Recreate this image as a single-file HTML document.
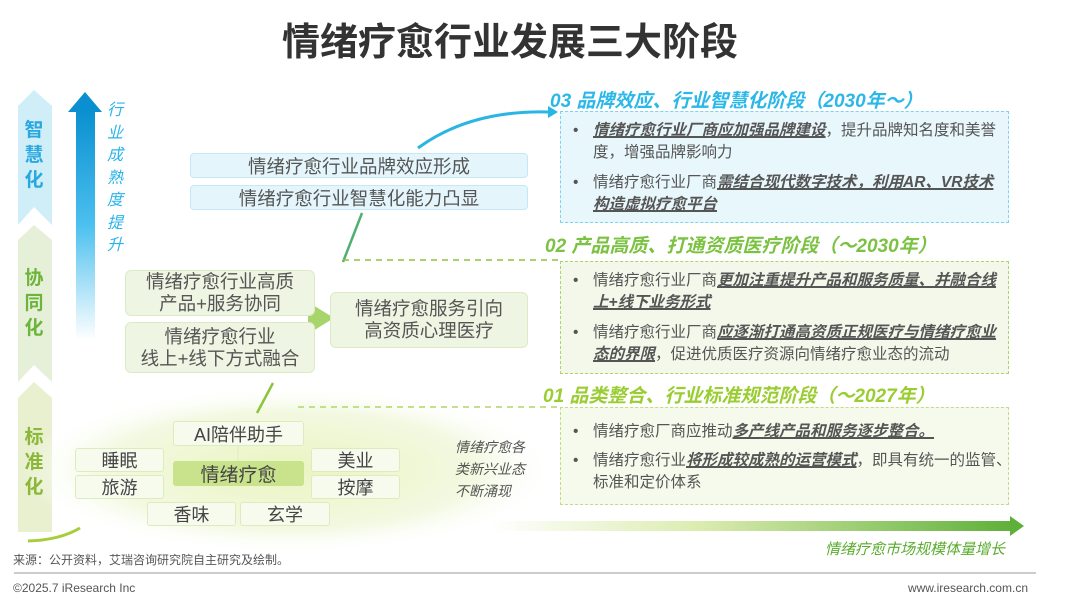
<!DOCTYPE html>
<html><head><meta charset="utf-8">
<style>
*{margin:0;padding:0;box-sizing:border-box}
body{width:1080px;height:605px;background:#fff;position:relative;overflow:hidden;font-family:"Liberation Sans","Noto Sans CJK SC",sans-serif;color:#444}
.a{position:absolute}
.c{display:flex;align-items:center;justify-content:center;text-align:center}
.bb{background:#e4f6fc;border:1.5px solid #c2e9f6;border-radius:4px;font-size:18.5px;color:#555}
.gb{background:#eef5e3;border:1.5px solid #dbebc6;border-radius:6px;font-size:18.5px;color:#555;line-height:22px}
.sb{background:#f7fbee;border:1.5px solid #dcecbf;border-radius:3px;font-size:18px;color:#444}
.h{font-weight:bold;font-style:italic;font-size:19px}
.box{border:1.5px dashed;}
.li{position:absolute;left:32px;right:4px;font-size:15.5px;line-height:22px;color:#555}
.li:before{content:"•";position:absolute;left:-20px;color:#555}
u{font-weight:bold;font-style:italic;color:#555;text-decoration-thickness:1.5px}
.vt{font-size:19px;font-weight:bold;width:34px;line-height:25px}
</style></head><body>
<div class="a" style="left:0;top:11px;width:1020px;text-align:center;font-size:38px;font-weight:bold;color:#333">情绪疗愈行业发展三大阶段</div>

<svg class="a" style="left:0;top:0" width="1080" height="605">
<defs>
<linearGradient id="ba" x1="0" y1="0" x2="0" y2="1"><stop offset="0" stop-color="#0a8fd0"/><stop offset="0.5" stop-color="#4cc0ef"/><stop offset="1" stop-color="#fff"/></linearGradient>
<linearGradient id="ga" x1="0" y1="0" x2="1" y2="0"><stop offset="0" stop-color="#fff"/><stop offset="0.4" stop-color="#dcecb0"/><stop offset="1" stop-color="#5fb03a"/></linearGradient>
<radialGradient id="glow" cx="0.5" cy="0.5" r="0.5"><stop offset="0" stop-color="#eaf4c0"/><stop offset="0.7" stop-color="#f3f9e2"/><stop offset="1" stop-color="#fff" stop-opacity="0"/></radialGradient>
</defs>
<polygon points="18,106 34,90 52,106 52,225 34,207 18,225" fill="#cfeef8"/>
<polygon points="18,240 34,225 52,240 52,382 34,365 18,382" fill="#e6f0d8"/>
<polygon points="18,398 34,382 52,398 52,532 18,532" fill="#e8f0d0"/>
<ellipse cx="290" cy="470" rx="270" ry="85" fill="url(#glow)"/>
<rect x="76" y="110" width="19" height="230" fill="url(#ba)"/>
<polygon points="68,112 85,92 102,112" fill="#0a8fd0"/>
<path d="M418,148 Q470,110 548,112" stroke="#29b6e3" stroke-width="3" fill="none"/>
<polygon points="548,106 558,112 548,118" fill="#29b6e3"/>
<line x1="362" y1="213" x2="343" y2="262" stroke="#4fb070" stroke-width="2.5"/>
<line x1="273" y1="383" x2="257" y2="413" stroke="#8cc43c" stroke-width="2.5"/>
<path d="M28,541 Q60,540 80,528" stroke="#a8cd3c" stroke-width="3" fill="none"/>
<line x1="343" y1="260" x2="560" y2="260" stroke="#8cc43c" stroke-width="1.5" stroke-dasharray="6,5"/>
<line x1="298" y1="407" x2="560" y2="407" stroke="#b0d66a" stroke-width="1.5" stroke-dasharray="6,5"/>
<polygon points="308,302 334,318 308,334" fill="#a8d46c"/>
<rect x="490" y="521" width="522" height="10" fill="url(#ga)"/>
<polygon points="1010,516 1024,526 1010,536" fill="#5fb03a"/>
<line x1="14" y1="573" x2="1036" y2="573" stroke="#999" stroke-width="1"/>
<line x1="238" y1="446" x2="238" y2="462" stroke="#dcecbf"/>
</svg>
<div class="a c vt" style="left:17px;top:118px;color:#29a8e0">智<br>慧<br>化</div>
<div class="a c vt" style="left:17px;top:266px;color:#6cb43c">协<br>同<br>化</div>
<div class="a c vt" style="left:17px;top:425px;color:#8cb83a">标<br>准<br>化</div>
<div class="a" style="left:104px;top:100px;width:22px;font-size:16px;line-height:22.5px;font-style:italic;color:#2ab4ea;text-align:center">行<br>业<br>成<br>熟<br>度<br>提<br>升</div>

<div class="a c bb" style="left:190px;top:153px;width:338px;height:25px">情绪疗愈行业品牌效应形成</div>
<div class="a c bb" style="left:190px;top:185px;width:338px;height:25px">情绪疗愈行业智慧化能力凸显</div>

<div class="a c gb" style="left:125px;top:270px;width:190px;height:46px">情绪疗愈行业高质<br>产品+服务协同</div>
<div class="a c gb" style="left:125px;top:322px;width:190px;height:51px">情绪疗愈行业<br>线上+线下方式融合</div>
<div class="a c gb" style="left:330px;top:292px;width:198px;height:56px">情绪疗愈服务引向<br>高资质心理医疗</div>

<div class="a c sb" style="left:173px;top:421px;width:131px;height:25px">AI陪伴助手</div>
<div class="a c sb" style="left:75px;top:448px;width:89px;height:24px">睡眠</div>
<div class="a c sb" style="left:75px;top:475px;width:89px;height:24px">旅游</div>
<div class="a c" style="left:173px;top:461px;width:131px;height:25px;background:#c9e28c;border-radius:3px;font-size:19px;color:#444">情绪疗愈</div>
<div class="a c sb" style="left:311px;top:448px;width:89px;height:24px">美业</div>
<div class="a c sb" style="left:311px;top:475px;width:89px;height:24px">按摩</div>
<div class="a c sb" style="left:147px;top:502px;width:89px;height:24px">香味</div>
<div class="a c sb" style="left:240px;top:502px;width:90px;height:24px">玄学</div>
<div class="a" style="left:455px;top:436px;font-size:14px;line-height:22px;font-style:italic;color:#555">情绪疗愈各<br>类新兴业态<br>不断涌现</div>

<div class="a h" style="left:550px;top:86px;color:#2bb8e8">03 品牌效应、行业智慧化阶段（2030年～）</div>
<div class="a box" style="left:560px;top:111px;width:449px;height:112px;background:#e8f7fc;border-color:#80d2ee">
<div class="li" style="top:8px"><u>情绪疗愈行业厂商应加强品牌建设</u>，提升品牌知名度和美誉度，增强品牌影响力</div>
<div class="li" style="top:60px">情绪疗愈行业厂商<u>需结合现代数字技术，利用AR、VR技术构造虚拟疗愈平台</u></div>
</div>
<div class="a h" style="left:545px;top:231px;color:#7cc242">02 产品高质、打通资质医疗阶段（～2030年）</div>
<div class="a box" style="left:560px;top:261px;width:449px;height:113px;background:#f3f8ea;border-color:#a8d66c">
<div class="li" style="top:8px">情绪疗愈行业厂商<u>更加注重提升产品和服务质量、并融合线上+线下业务形式</u></div>
<div class="li" style="top:60px">情绪疗愈行业厂商<u>应逐渐打通高资质正规医疗与情绪疗愈业态的界限</u>，促进优质医疗资源向情绪疗愈业态的流动</div>
</div>
<div class="a h" style="left:543px;top:381px;color:#9acd32">01 品类整合、行业标准规范阶段（～2027年）</div>
<div class="a box" style="left:560px;top:407px;width:449px;height:98px;background:#f6faec;border-color:#c0de7e">
<div class="li" style="top:13px">情绪疗愈厂商应推动<u>多产线产品和服务逐步整合。</u></div>
<div class="li" style="top:42px;right:-4px">情绪疗愈行业<u>将形成较成熟的运营模式</u>，即具有统一的监管、标准和定价体系</div>
</div>

<div class="a" style="left:825px;top:538px;font-size:15px;font-style:italic;color:#5aab2e">情绪疗愈市场规模体量增长</div>
<div class="a" style="left:13px;top:551px;font-size:12px;color:#555">来源：公开资料，艾瑞咨询研究院自主研究及绘制。</div>
<div class="a" style="left:13px;top:581px;font-size:12px;color:#555">©2025.7 iResearch Inc</div>
<div class="a" style="right:52px;top:581px;font-size:12px;color:#555">www.iresearch.com.cn</div>
</body></html>
